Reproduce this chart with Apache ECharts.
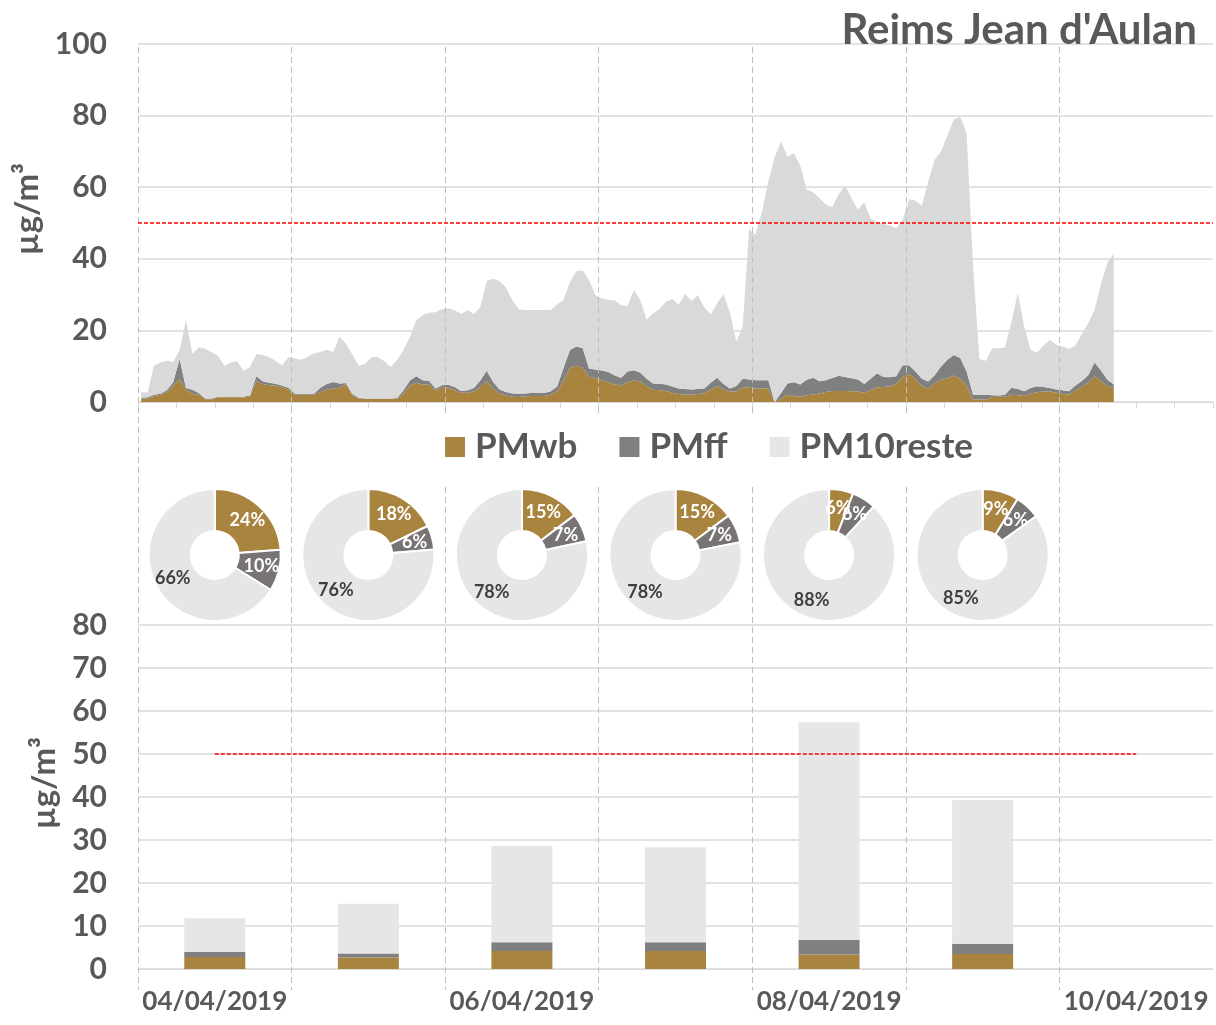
<!DOCTYPE html>
<html>
<head>
<meta charset="utf-8">
<script src="https://cdn.jsdelivr.net/npm/echarts@6/dist/echarts.min.js"></script>
<style>
  html, body { margin: 0; padding: 0; background: #fff; }
  #main { width: 1216px; height: 1025px; }
</style>
</head>
<body>
<div id="main"></div>
<script>
// hourly values from 04/04 00h, one per hour (7 days of slots on the axis)
const hourSlots = Array.from({ length: 168 }, (_, i) => i);
const pmwb = [
  1.0,1.0,1.7,2.0,2.8,4.5,6.5,3.4,2.3,2.0, 0.8,0.8,1.3,1.3,1.3,1.3,1.3,1.5,5.8,5.0,
  4.7,4.6,4.2,3.5,2.0,2.0,2.0,2.0,2.8,3.4, 3.8,4.0,5.1,1.8,1.0,0.9,0.9,0.9,0.9,0.9,
  0.9,2.4,4.6,5.4,4.9,4.9,3.2,4.2,4.0,3.3, 2.6,2.6,3.0,4.2,5.8,3.8,2.4,1.8,1.5,1.4,
  1.6,1.7,1.7,1.7,2.0,3.0,5.8,9.5,10.1,9.6, 7.0,6.7,6.1,5.6,4.9,4.6,5.6,6.0,5.7,4.4,
  3.4,3.3,3.1,2.6,2.2,2.1,2.0,2.2,2.4,3.5, 4.4,3.5,2.9,2.9,4.2,4.0,3.8,3.8,3.8,0,
  1.0,2.0,1.7,1.5,1.9,2.1,2.4,2.8,3.1,3.1, 3.1,3.0,2.9,2.5,3.3,4.1,4.2,4.3,5.0,7.0,
  7.8,6.5,4.5,3.8,5.2,6.2,6.6,7.4,6.5,4.5, 0.7,0.7,0.7,1.3,1.5,1.5,2.0,1.9,1.7,2.3,
  2.7,2.9,3.0,2.6,2.3,2.0,3.3,4.2,5.4,7.2, 5.9,4.5,3.9
];
const pmff = [
  0.2,0.3,0.3,0.3,0.5,1.0,5.5,0.5,1.1,0.5, 0.2,0.2,0.2,0.2,0.2,0.2,0.2,0.3,1.4,0.8,
  0.7,0.5,0.4,0.5,0.4,0.3,0.3,0.3,1.2,1.6, 1.8,1.2,0.2,0.4,0.2,0.1,0.1,0.1,0.1,0.1,
  0.2,0.9,1.4,1.8,1.2,1.0,0.6,0.5,0.8,0.9, 0.5,0.7,0.9,1.8,2.9,1.8,1.1,1.0,0.9,0.9,
  0.8,0.8,0.8,0.8,1.0,1.3,3.7,5.0,5.4,5.4, 2.3,2.4,2.7,2.8,2.5,2.2,2.9,2.9,2.5,2.1,
  1.8,1.8,1.8,1.7,1.6,1.5,1.5,1.4,1.4,1.9, 2.4,1.5,0.9,1.6,2.3,2.3,2.3,2.3,2.3,0,
  1.5,3.2,3.8,3.4,4.3,4.7,3.4,3.3,3.6,4.2, 3.9,3.6,3.4,2.5,3.2,3.9,2.8,2.6,2.2,3.3,
  2.5,2.0,2.0,1.9,2.3,3.7,5.2,5.7,5.8,4.0, 1.3,1.3,1.3,0.6,0.3,0.5,2.0,1.7,1.3,1.6,
  1.7,1.3,0.9,0.9,1.0,1.0,1.3,1.7,2.1,3.8, 2.9,1.7,1.0
];
const pm10reste = [
  1.5,1.4,8.1,8.7,8.2,5.7,2.5,19.1,10.0,12.8, 13.9,12.9,11.4,8.6,9.6,9.9,7.2,8.0,6.2,7.3,
  7.1,6.4,5.6,8.5,9.8,9.5,10.3,11.3,10.0,9.6, 8.4,13.0,11.0,11.0,8.9,9.6,11.6,11.6,10.4,8.8,
  10.7,11.2,12.2,15.7,18.2,19.0,21.3,21.3,21.4,21.4, 21.5,22.3,20.7,20.5,25.1,28.8,30.3,29.2,26.1,23.6,
  23.3,23.2,23.2,23.2,22.7,22.9,19.0,19.0,21.1,21.7, 24.7,20.7,20.2,20.1,21.0,20.2,18.3,22.4,20.3,16.5,
  19.6,20.9,23.1,24.5,23.4,26.6,24.8,26.2,22.7,19.1, 20.7,25.2,21.2,12.5,14.5,41.9,40.7,46.9,55.4,68.5,
  70.3,63.3,64.0,61.1,53.1,51.8,51.2,49.1,47.8,50.7, 53.5,50.4,47.4,50.8,44.7,42.2,42.8,42.3,41.3,40.6,
  46.3,47.8,48.3,55.8,60.2,60.1,62.7,65.9,67.4,66.5, 36.0,10.0,9.5,13.1,13.2,13.2,18.5,26.9,18.0,10.6,
  9.4,11.6,13.4,12.5,12.2,11.8,11.2,13.1,14.5,14.8, 24.2,32.8,36.6
];

// daily means
const days = ['04/04/2019', '05/04/2019', '06/04/2019', '07/04/2019', '08/04/2019', '09/04/2019', '10/04/2019'];
const dayWb = [2.8, 2.7, 4.2, 4.2, 3.4, 3.5];
const dayFf = [1.2, 0.9, 2.0, 2.0, 3.4, 2.4];
const dayReste = [7.8, 11.6, 22.4, 22.1, 50.6, 33.4];

const names = ['PMwb', 'PMff', 'PM10reste'];
const limit = 50;

const C_WB = '#a9843f', C_FF = '#808080', C_RESTE = '#d9d9d9', C_RESTE2 = '#e6e6e6';
const TXT = '#595959';

const chart = echarts.init(document.getElementById('main'));

const redLine = { color: '#ff0000', width: 1.5, type: [4, 2] };

function areaSeries(name, arr, color) {
  return {
    name: name, type: 'line', stack: 'h', xAxisIndex: 0, yAxisIndex: 0,
    data: arr, symbol: 'none', lineStyle: { width: 0 },
    areaStyle: { color: color, opacity: 1 }, itemStyle: { color: color }
  };
}
function barSeries(name, arr, color) {
  return {
    name: name, type: 'bar', stack: 'd', xAxisIndex: 1, yAxisIndex: 1,
    barWidth: 61, data: arr, itemStyle: { color: color }
  };
}

const yLabel = { color: TXT, fontSize: 30, fontWeight: 'bold', margin: 31 };
const yName = { color: TXT, fontSize: 33, fontWeight: 'bold', padding: [0, 0, 0, 28] };

const series = [
  areaSeries(names[0], pmwb, C_WB),
  areaSeries(names[1], pmff, C_FF),
  areaSeries(names[2], pm10reste, C_RESTE),
  barSeries(names[0], dayWb, C_WB),
  barSeries(names[1], dayFf, C_FF),
  barSeries(names[2], dayReste, C_RESTE2)
];
series[2].markLine = {
  silent: true, symbol: 'none', label: { show: false }, lineStyle: redLine,
  data: [{ yAxis: limit }]
};
series[5].markLine = {
  silent: true, symbol: 'none', label: { show: false }, lineStyle: redLine,
  data: [[{ coord: [days[0], limit] }, { coord: [days[6], limit] }]]
};

const option = {
  animation: false,
  textStyle: { fontFamily: 'Lato' },
  title: {
    text: "Reims Jean d'Aulan", right: 14, top: 4,
    textStyle: { color: TXT, fontSize: 42, fontWeight: 'bold', fontFamily: 'Lato' }
  },
  legend: {
    left: 430, top: 413, z: 10,
    padding: [16, 15, 18, 15], backgroundColor: '#fff',
    itemWidth: 20, itemHeight: 20, itemGap: 42, icon: 'rect',
    textStyle: { color: TXT, fontSize: 35, fontWeight: 'bold', lineHeight: 36, padding: [0, 0, 0, 5] },
    data: [
      { name: names[0], itemStyle: { color: C_WB } },
      { name: names[1], itemStyle: { color: C_FF } },
      { name: names[2], itemStyle: { color: C_RESTE2 } }
    ]
  },
  grid: [
    { left: 138, top: 44, width: 1075, height: 358 },
    { left: 138, top: 625, width: 1075, height: 344 },
    { left: 138, top: 47, width: 1075, height: 943 }
  ],
  xAxis: [
    {
      gridIndex: 0, type: 'category', data: hourSlots, boundaryGap: true,
      axisLine: { lineStyle: { color: '#d9d9d9' } },
      axisTick: { show: true, interval: 5, length: 6, lineStyle: { color: '#d9d9d9' } },
      axisLabel: { show: false }, splitLine: { show: false }
    },
    {
      gridIndex: 1, type: 'category', data: days, boundaryGap: true,
      axisLine: { lineStyle: { color: '#d9d9d9' } },
      axisTick: { show: false },
      axisLabel: { interval: 1, color: TXT, fontSize: 26, fontWeight: 'bold', margin: 20 }
    },
    {
      gridIndex: 2, type: 'value', min: 0, max: 7, interval: 1, z: 5,
      axisLine: { show: false }, axisTick: { show: false }, axisLabel: { show: false },
      splitLine: { show: true, showMaxLine: false, lineStyle: { color: '#bfbfbf', width: 1, type: [6, 4] } }
    }
  ],
  yAxis: [
    {
      gridIndex: 0, type: 'value', min: 0, max: 100, interval: 20,
      name: 'µg/m³', nameLocation: 'middle', nameGap: 64, nameTextStyle: yName,
      axisLine: { show: false }, axisTick: { show: false }, axisLabel: yLabel,
      splitLine: { lineStyle: { color: '#d9d9d9', width: 1.5 } }
    },
    {
      gridIndex: 1, type: 'value', min: 0, max: 80, interval: 10,
      name: 'µg/m³', nameLocation: 'middle', nameGap: 64, nameTextStyle: yName,
      axisLine: { show: false }, axisTick: { show: false }, axisLabel: yLabel,
      splitLine: { lineStyle: { color: '#d9d9d9', width: 1.5 } }
    },
    {
      gridIndex: 2, type: 'value', min: 0, max: 1, show: false
    }
  ],
  series: series
};

chart.setOption(option);

// one donut per day, centred above that day's bar
const pieY = 555;
const pieColors = [C_WB, '#787474', C_RESTE2];
const labelColors = ['#ffffff', '#ffffff', '#404040'];
for (let d = 0; d < dayWb.length; d++) {
  const cx = chart.convertToPixel({ xAxisIndex: 1 }, days[d]);
  const vals = [dayWb[d], dayFf[d], dayReste[d]];
  option.series.push({
    type: 'pie', center: [cx, pieY], radius: [24, 66],
    percentPrecision: 0, startAngle: 90, clockwise: true,
    avoidLabelOverlap: false, labelLayout: { hideOverlap: false },
    emphasis: { disabled: true }, silent: true,
    itemStyle: { borderColor: '#fff', borderWidth: 2 },
    label: { show: true, position: 'inside', formatter: '{d}%', fontSize: 18, fontWeight: 'bold', fontFamily: 'Lato' },
    labelLine: { show: false },
    data: vals.map((v, k) => ({
      name: names[k], value: v,
      itemStyle: { color: pieColors[k] },
      label: { color: labelColors[k] }
    }))
  });
}
chart.setOption(option);

window.addEventListener('resize', () => chart.resize());
</script>
</body>
</html>
